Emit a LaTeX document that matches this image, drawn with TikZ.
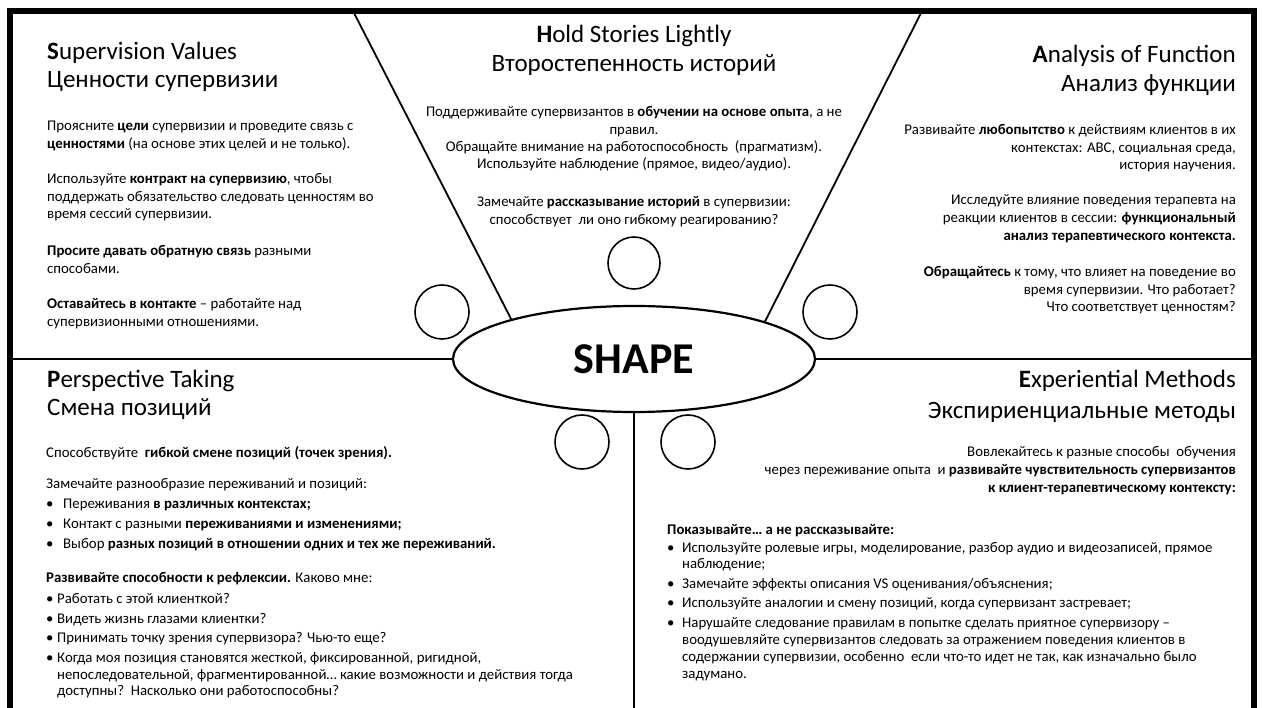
\documentclass[tikz,border=0pt]{standalone}
\usepackage{fontspec}
\setmainfont{Carlito}
\usetikzlibrary{positioning}
\usetikzlibrary{shapes.geometric}

\tikzset{
  heading/.style={font=\fontsize{25}{30}\selectfont, inner sep=0pt},
  body/.style={font=\fontsize{14.8}{17.3}\selectfont, inner sep=0pt},
  seat/.style={circle, draw, line width=1.6pt, minimum size=54pt, inner sep=0pt},
  divider/.style={line width=1.8pt},
}
% lines of a paragraph, baseline on the first one
\newcommand{\paralines}[2]{\begin{tabular}[t]{@{}#1@{}}#2\end{tabular}}
% bullet with a fixed gap before the item text
\newcommand{\dotitem}[1][17pt]{\makebox[#1][l]{\textbullet}}

\begin{document}
\begin{tikzpicture}[x=1pt, y=-1pt]
  \useasboundingbox (0,0) rectangle (1262,708);
  \fill[white] (0,0) rectangle (1262,708);

  % heavy frame, open at the bottom
  \draw[line width=6pt] (10,720) -- (10,11) -- (1254,11) -- (1254,720);

  \node at (634,359) [ellipse, draw, line width=2.2pt, minimum width=362pt, minimum height=106pt, inner sep=0pt,
    font=\fontsize{44}{50}\selectfont\bfseries] (hub) {SHAPE};

  \coordinate (frameW) at (10,359);
  \coordinate (frameE) at (1254,359);
  \coordinate (frameS) at (634,720);
  \coordinate (frameNW) at (353,11);
  \coordinate (frameNE) at (922,11);

  \draw[divider] (frameW) -- (hub.west);
  \draw[divider] (hub.east) -- (frameE);
  \draw[divider] (hub.south) -- (frameS);
  \draw[divider] (frameNW) -- (hub.162);
  \draw[divider] (frameNE) -- (hub.16);

  \node at (634,263) [seat, minimum size=52pt] (seatN) {};
  \node at (442,312) [seat] (seatNW) {};
  \node at (830,312) [seat] (seatNE) {};
  \node at (582,442) [seat] (seatSW) {};
  \node at (688,442) [seat] (seatSE) {};

  % S
  \node at (47,60) [heading, anchor=base west] (valuesEN) {\textbf{S}upervision Values};
  \node at (47,88) [heading, anchor=base west] (valuesRU) {Ценности супервизии};
  \node at (47,131) [body, anchor=base west] (valuesA) {\paralines{l}{
    Проясните \textbf{цели} супервизии и проведите связь с\\
    \textbf{ценностями} (на основе этих целей и не только).}
  };
  \node at (47,184) [body, anchor=base west] (valuesB) {\paralines{l}{
    Используйте \textbf{контракт на супервизию}, чтобы\\
    поддержать обязательство следовать ценностям\ во\\
    время сессий супервизии.}
  };
  \node at (47,256) [body, anchor=base west] (valuesC) {\paralines{l}{
    \textbf{Просите давать обратную связь} разными\\
    способами.}
  };
  \node at (47,309) [body, anchor=base west] (valuesD) {\paralines{l}{
    \textbf{Оставайтесь в контакте} – работайте над\\
    супервизионными отношениями.}
  };

  % H
  \node at (634,43) [heading, anchor=base] (storiesEN) {\textbf{H}old Stories Lightly};
  \node at (634,72) [heading, anchor=base] (storiesRU) {Второстепенность историй};
  \node at (634,117) [body, anchor=base] (storiesA) {\paralines{c}{
    Поддерживайте супервизантов в \textbf{обучении на основе опыта}, а не\\
    правил.\\
    Обращайте внимание на работоспособность\ \ (прагматизм).\\
    Используйте наблюдение (прямое, видео/аудио).}
  };
  \node at (634,207) [body, anchor=base] (storiesB) {\paralines{c}{
    Замечайте \textbf{рассказывание историй} в супервизии:\\
    способствует\ \ ли оно гибкому реагированию?}
  };

  % A
  \node at (1236,63) [heading, anchor=base east] (functionEN) {\textbf{A}nalysis of Function};
  \node at (1236,92) [heading, anchor=base east] (functionRU) {Анализ функции};
  \node at (1236,135) [body, anchor=base east] (functionA) {\paralines{r}{
    Развивайте \textbf{любопытство} к действиям клиентов в их\\
    контекстах: ABC, социальная среда,\\
    история научения.}
  };
  \node at (1236,205) [body, anchor=base east] (functionB) {\paralines{r}{
    Исследуйте влияние поведения терапевта на\\[0.6pt]
    реакции клиентов в сессии: \textbf{функциональный}\\[0.6pt]
    \textbf{анализ терапевтического контекста.}}
  };
  \node at (1236,277) [body, anchor=base east] (functionC) {\paralines{r}{
    \textbf{Обращайтесь} к тому, что влияет на поведение во\\
    время супервизии. Что работает?\\
    Что соответствует\ ценностям?}
  };

  % P
  \node at (47,388) [heading, anchor=base west] (perspectiveEN) {\textbf{P}erspective Taking};
  \node at (47,416) [heading, anchor=base west] (perspectiveRU) {Смена позиций};
  \node at (46,458) [body, anchor=base west] (perspectiveA) {
    Способствуйте\ \ \textbf{гибкой смене позиций (точек зрения).}
  };
  \node at (46,489) [body, anchor=base west] (perspectiveB) {\paralines{l}{
    Замечайте разнообразие\ переживаний и позиций:\\[2.7pt]
    \dotitem Переживания \textbf{в различных контекстах;}\\[2.7pt]
    \dotitem Контакт с разными \textbf{переживаниями и изменениями;}\\[2.7pt]
    \dotitem Выбор \textbf{разных позиций в отношении одних и тех же переживаний.}}
  };
  \node at (46,582) [body, anchor=base west] (perspectiveC) {\paralines{l}{
    \textbf{Развивайте способности к рефлексии.} Каково мне:\\[4.5pt]
    \dotitem[11pt]Работать с этой клиенткой?\\[2.2pt]
    \dotitem[11pt]Видеть жизнь глазами клиентки?\\[2.2pt]
    \dotitem[11pt]Принимать точку зрения супервизора? Чью-то еще?\\[2.2pt]
    \dotitem[11pt]Когда моя позиция становятся жесткой, фиксированной, ригидной,\\[-0.5pt]
    \hspace*{11pt}непоследовательной, фрагментированной… какие возможности\ и действия тогда\\[-0.5pt]
    \hspace*{11pt}доступны?\ \ Насколько они работоспособны?}
  };

  % E
  \node at (1236,388) [heading, anchor=base east] (methodsEN) {\textbf{E}xperiential Methods};
  \node at (1236,419) [heading, anchor=base east] (methodsRU) {Экспириенциальные методы};
  \node at (1236,457) [body, anchor=base east] (methodsA) {\paralines{r}{
    Вовлекайтесь к разные\ способы\ \ обучения\\[0.5pt]
    через переживание опыта\ \ и \textbf{развивайте чувствительность супервизантов}\\[0.5pt]
    \textbf{к клиент-терапевтическому контексту:}}
  };
  \node at (667,535) [body, anchor=base west] (methodsB) {\paralines{l}{
    \textbf{Показывайте… а не рассказывайте:}\\
    \dotitem[15pt]Используйте ролевые игры, моделирование, разбор\ аудио и видеозаписей, прямое\\[-1pt]
    \hspace*{15pt}наблюдение;\\[2.2pt]
    \dotitem[15pt]Замечайте эффекты описания VS оценивания/объяснения;\\[2.2pt]
    \dotitem[15pt]Используйте аналогии и смену позиций, когда супервизант застревает;\\[2.2pt]
    \dotitem[15pt]Нарушайте следование правилам в попытке сделать приятное супервизору –\\
    \hspace*{15pt}воодушевляйте супервизантов следовать за отражением поведения клиентов в\\
    \hspace*{15pt}содержании супервизии, особенно\ \ если что-то идет не так, как изначально было\\
    \hspace*{15pt}задумано.}
  };
\end{tikzpicture}
\end{document}
